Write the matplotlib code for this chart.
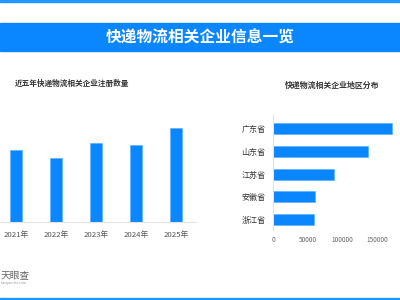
import matplotlib
matplotlib.use("Agg")
import matplotlib.pyplot as plt
from matplotlib.patches import Rectangle

plt.rcParams['font.family'] = ['Noto Sans CJK SC', 'DejaVu Sans']

# data
years = ['2021年', '2022年', '2023年', '2024年', '2025年']
registrations = [36000, 32000, 39500, 38500, 47000]

provinces = ['广东省', '山东省', '江苏省', '安徽省', '浙江省']
province_counts = [171500, 137000, 88000, 60500, 59000]
province_ticks = [0, 50000, 100000, 150000]

BLUE = '#0A86FF'
EDGE = '#5DB2FF'

fig = plt.figure(figsize=(4, 3), dpi=100)

# top / bottom thin lines and title banner
fig.patches.append(Rectangle((0, 1 - 2 / 300), 1, 2 / 300, transform=fig.transFigure,
                             color='#1E98FF', zorder=0))
fig.patches.append(Rectangle((0, 0), 1, 2 / 300, transform=fig.transFigure,
                             color='#1E98FF', zorder=0))
fig.patches.append(Rectangle((0, 1 - 50.5 / 300), 1, 27.5 / 300, transform=fig.transFigure,
                             color='#0A86FF', zorder=0))
fig.text(0.5, 1 - 37.5 / 300, '快递物流相关企业信息一览', ha='center', va='center',
         color='white', fontsize=11.3, fontweight='bold')

# left chart: yearly registrations
ax1 = fig.add_axes([0, 1 - 222 / 300, 196 / 400, 122 / 300])
ax1.bar(range(len(years)), registrations, width=0.31, color=BLUE,
        edgecolor=EDGE, linewidth=0.5)
ax1.set_xlim(-0.4, 4.5)
ax1.set_ylim(0, 61000)
ax1.set_xticks(range(len(years)))
ax1.set_xticklabels(years, fontsize=5.6, color='#555555')
ax1.tick_params(axis='x', length=0, pad=6.5)
ax1.set_yticks([])
for s in ['top', 'right', 'left']:
    ax1.spines[s].set_visible(False)
ax1.spines['bottom'].set_color('#E3E3E3')
ax1.spines['bottom'].set_linewidth(0.8)
fig.text(15 / 400, 1 - 83 / 300, '近五年快递物流相关企业注册数量', ha='left', va='center',
         fontsize=5.5, color='#333333', fontweight='bold')

# right chart: regional distribution
ax2 = fig.add_axes([273 / 400, 1 - 230 / 300, 122 / 400, 115 / 300])
ax2.barh(range(len(provinces)), province_counts, height=0.48, color=BLUE,
         edgecolor=EDGE, linewidth=0.5)
ax2.set_ylim(4.46, -0.6)
ax2.set_xlim(0, 175800)
ax2.set_yticks(range(len(provinces)))
ax2.set_yticklabels(provinces, fontsize=5.8, color='#333333')
ax2.set_xticks(province_ticks)
ax2.set_xticklabels([str(t) for t in province_ticks], fontsize=4.6, color='#666666')
ax2.tick_params(axis='y', length=0, pad=5.5)
ax2.tick_params(axis='x', length=0, pad=4)
for s in ['top', 'right', 'bottom']:
    ax2.spines[s].set_visible(False)
ax2.spines['left'].set_color('#E3E3E3')
ax2.spines['left'].set_linewidth(0.8)
fig.text(332 / 400, 1 - 85 / 300, '快递物流相关企业地区分布', ha='center', va='center',
         fontsize=5.7, color='#333333', fontweight='bold')

# watermark logo
fig.text(1 / 400, 1 - 275 / 300, '天眼查', ha='left', va='center',
         fontsize=7, color='#666666')
fig.text(1 / 400, 1 - 283 / 300, 'tianyancha.com', ha='left', va='center',
         fontsize=2.5, color='#999999')

fig.savefig('out.png', dpi=100)
